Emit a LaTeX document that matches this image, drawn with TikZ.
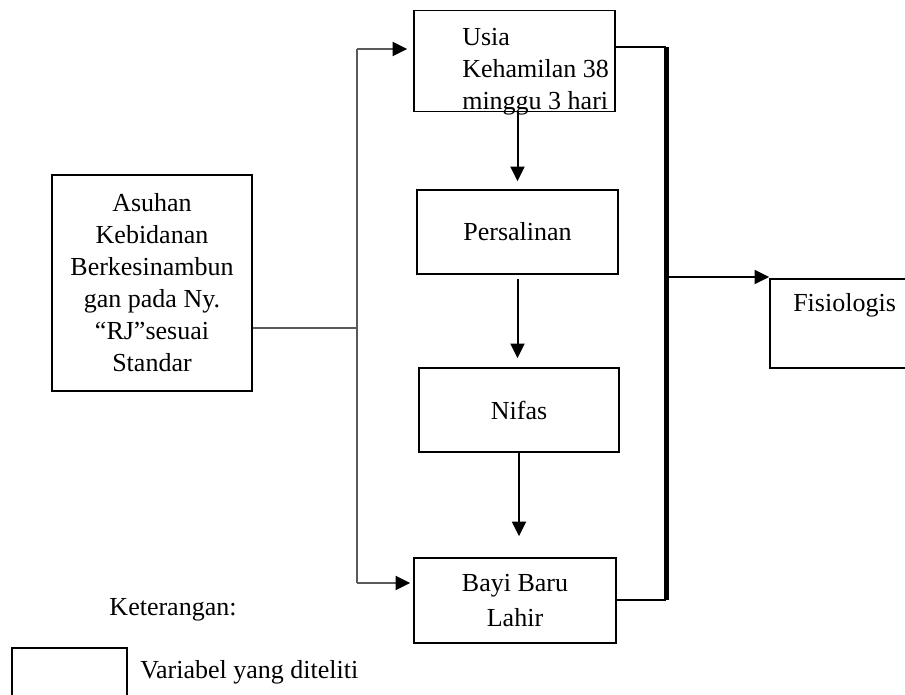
\documentclass[tikz,border=0pt]{standalone}
\usepackage{fontspec}
\setmainfont{Liberation Serif}
\usetikzlibrary{arrows.meta}

\begin{document}
\begin{tikzpicture}[x=0.75pt,y=-0.75pt,font=\fontsize{19.5}{24}\selectfont]
\tikzstyle{var}=[draw,line width=1.2pt,inner sep=0pt,align=center]
\tikzstyle{txt}=[inner sep=0pt,align=left]
\tikzstyle{feed}=[draw=black!65,line width=1.5pt]
\tikzstyle{flow}=[line width=1.5pt,-{Triangle[length=11pt,width=10.5pt,color=black]}]
\useasboundingbox (0,0) rectangle (905,694);
\clip (0,0) rectangle (905,694);
\node [var,minimum width=150pt,minimum height=162pt] (asuhan) at (152,283) {Asuhan\\Kebidanan\\Berkesinambun\\gan pada Ny.\\“RJ”sesuai\\Standar};
\node [var,minimum width=150.75pt,minimum height=75.75pt] (usia) at (514.5,61) {};
\node [txt,anchor=north west] (usiatxt) at (462,28) {Usia\\Kehamilan 38\\minggu 3 hari};
\node [var,minimum width=150.75pt,minimum height=63pt] (persalinan) at (517.5,232) {Persalinan};
\node [var,minimum width=150pt,minimum height=63pt] (nifas) at (519,410) {Nifas};
\node [var,minimum width=151.5pt,minimum height=63.75pt] (bayi) at (515,600.5) {Bayi Baru\\[2pt]Lahir};
\node [var,minimum width=120pt,minimum height=66.75pt] (fisiologis) at (850,323.5) {};
\node [txt,anchor=west] (fistxt) at (793,305) {Fisiologis};
\node [txt] (ket) at (173,610) {Keterangan:};
\node [var,minimum width=86.25pt,minimum height=54pt] (legend) at (69.5,684) {};
\node [txt,anchor=west] (vartxt) at (140,672) {Variabel yang diteliti};
\coordinate (ua) at (357,49);
\coordinate (uj) at (357,328);
\coordinate (ub) at (357,583);
\coordinate (ra) at (666,47);
\coordinate (rf) at (666,277);
\coordinate (rb) at (666,600);
\draw [feed] (asuhan.east |- uj) -- (uj);
\draw [feed] (ua) -- (ub);
\draw [feed,flow,shorten >=4.5pt] (ua) -- (usia.west |- ua);
\draw [feed,flow,shorten >=2.25pt] (ub) -- (bayi.west |- ub);
\draw [flow,shorten >=6pt] (persalinan.north |- usia.south) -- (persalinan.north);
\draw [flow,shorten <=3pt,shorten >=6.75pt] (persalinan.south) -- (persalinan.south |- nifas.north);
\draw [flow,shorten >=15.75pt] (nifas.south) -- (nifas.south |- bayi.north);
\draw [line width=1.5pt] (usia.east |- ra) -- (ra);
\draw [line width=3.75pt] (ra) -- (rb);
\draw [line width=1.5pt] (bayi.east |- rb) -- (rb);
\draw [flow] (rf) -- (fisiologis.west |- rf);
\end{tikzpicture}
\end{document}
